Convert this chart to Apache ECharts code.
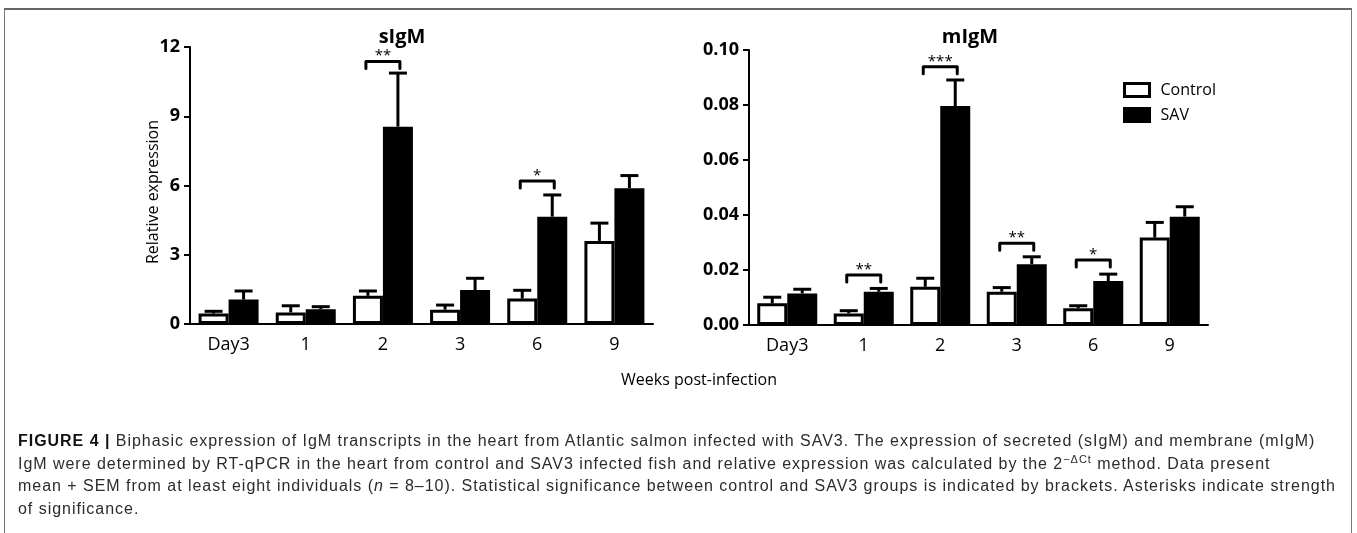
<!DOCTYPE html>
<html>
<head>
<meta charset="utf-8">
<script src="https://cdn.jsdelivr.net/npm/echarts/dist/echarts.min.js"></script>
<style>
  html, body { margin:0; padding:0; background:#fff; }
  #wrap { position:relative; width:1357px; height:533px; overflow:hidden; }
  #chart { position:absolute; left:0; top:0; width:1357px; height:533px; }
  #frame { position:absolute; left:4px; top:8px; width:1348px; height:540px;
           border-top:2px solid #666; border-left:1px solid #777; border-right:1px solid #777; box-sizing:border-box; }
  #caption { position:absolute; left:18px; top:430px; font-family:'Liberation Sans', Arial, sans-serif;
             font-size:16px; line-height:22.5px; color:#2b2b2b; }
  #caption div { white-space:nowrap; display:block; }
  #caption span.ln { white-space:nowrap; }
  #caption b { font-weight:bold; color:#111; }
  #caption sup { font-size:11px; vertical-align:6px; line-height:0; }
</style>
</head>
<body>
<div id="wrap">
  <div id="frame"></div>
  <div id="chart"></div>
  <div id="caption">
    <div><span class="ln"><b>FIGURE 4 |</b> Biphasic expression of IgM transcripts in the heart from Atlantic salmon infected with SAV3. The expression of secreted (sIgM) and membrane (mIgM)</span></div>
    <div><span class="ln">IgM were determined by RT-qPCR in the heart from control and SAV3 infected fish and relative expression was calculated by the 2<sup>−ΔCt</sup> method. Data present</span></div>
    <div><span class="ln" id="refline">mean + SEM from at least eight individuals (<i>n</i> = 8–10). Statistical significance between control and SAV3 groups is indicated by brackets. Asterisks indicate strength</span></div>
    <div><span class="ln">of significance.</span></div>
  </div>
</div>
<script>
// ---------------- DATA ----------------
const categories = ['Day3', '1', '2', '3', '6', '9'];

const sIgMControl    = [0.45, 0.50, 1.22, 0.62, 1.10, 3.60];
const sIgMControlErr = [0.10, 0.29, 0.21, 0.20, 0.36, 0.77];
const sIgMSAV        = [1.06, 0.64, 8.55, 1.47, 4.65, 5.88];
const sIgMSAVErr     = [0.37, 0.11, 2.32, 0.51, 0.94, 0.55];
const sIgMSigCats    = ['2', '6'];
const sIgMSigLevels  = [11.37, 6.20];
const sIgMSigMarks   = ['**', '*'];
const sIgMTicks      = [0, 3, 6, 9, 12];

const mIgMControl    = [0.0079, 0.0042, 0.0139, 0.0121, 0.0061, 0.0318];
const mIgMControlErr = [0.0022, 0.0010, 0.0031, 0.0015, 0.0009, 0.0055];
const mIgMSAV        = [0.0115, 0.0121, 0.0796, 0.0221, 0.0160, 0.0394];
const mIgMSAVErr     = [0.0015, 0.0012, 0.0095, 0.0027, 0.0025, 0.0036];
const mIgMSigCats    = ['1', '2', '3', '6'];
const mIgMSigLevels  = [0.0182, 0.0939, 0.0297, 0.0236];
const mIgMSigMarks   = ['**', '***', '**', '*'];
const mIgMTicks      = [0, 0.02, 0.04, 0.06, 0.08, 0.10];

const seriesNames = ['Control', 'SAV'];

// ---------------- CAPTION FIT ----------------
(function fitCaption() {
  const ref = document.getElementById('refline');
  const natural = ref.getBoundingClientRect().width;
  const target = 1318;
  const chars = ref.textContent.length;
  const ls = (target - natural) / chars;
  document.getElementById('caption').style.letterSpacing = ls.toFixed(3) + 'px';
})();

// ---------------- STYLE ----------------
const FONT = "'Open Sans', 'DejaVu Sans', sans-serif";
const BAR_W = 30;
const CAP_HALF = 9;

const chart = echarts.init(document.getElementById('chart'), null, { renderer: 'canvas' });

function errData(means, errs) {
  return means.map((m, i) => [i, m, m + errs[i]]);
}
function errSeries(gridIdx, means, errs, side) {
  return {
    type: 'custom', xAxisIndex: gridIdx, yAxisIndex: gridIdx, z: 5, silent: true,
    data: errData(means, errs),
    renderItem: function (params, api) {
      const c = api.coord([api.value(0), api.value(1)]);
      const t = api.coord([api.value(0), api.value(2)]);
      const cx = c[0] + side * BAR_W / 2;
      const st = { stroke: '#000', lineWidth: 3, lineCap: 'butt' };
      return {
        type: 'group',
        children: [
          { type: 'line', shape: { x1: cx, y1: c[1], x2: cx, y2: t[1] }, style: st },
          { type: 'line', shape: { x1: cx - CAP_HALF, y1: t[1], x2: cx + CAP_HALF, y2: t[1] }, style: st }
        ]
      };
    }
  };
}
function sigSeries(gridIdx, cats, levels, marks) {
  return {
    type: 'custom', xAxisIndex: gridIdx, yAxisIndex: gridIdx, z: 6, silent: true,
    data: cats.map((c, i) => [categories.indexOf(c), levels[i]]),
    renderItem: function (params, api) {
      const p = api.coord([api.value(0), api.value(1)]);
      const half = 17, drop = 7;
      const mark = marks[params.dataIndex];
      return {
        type: 'group',
        children: [
          { type: 'polyline',
            shape: { points: [[p[0] - half, p[1] + drop], [p[0] - half, p[1]], [p[0] + half, p[1]], [p[0] + half, p[1] + drop]] },
            style: { stroke: '#000', lineWidth: 3, fill: null, lineJoin: 'round', lineCap: 'round' } },
          { type: 'text',
            style: { text: mark, x: p[0], y: p[1] + 2, align: 'center', verticalAlign: 'bottom',
                     font: "15px " + FONT, fill: '#000' } }
        ]
      };
    }
  };
}

function xAxis(gridIdx) {
  return {
    type: 'category', gridIndex: gridIdx, data: categories,
    axisLine: { lineStyle: { color: '#000', width: 2 } },
    axisTick: { show: false },
    axisLabel: { color: '#000', fontFamily: FONT, fontSize: 18, margin: 12 },
    splitLine: { show: false }
  };
}
function yAxis(gridIdx, ticks, decimals) {
  return {
    type: 'value', gridIndex: gridIdx,
    min: ticks[0], max: ticks[ticks.length - 1], interval: ticks[1] - ticks[0],
    axisLine: { show: true, lineStyle: { color: '#000', width: 2 } },
    axisTick: { show: true, length: 6, lineStyle: { color: '#000', width: 2 } },
    axisLabel: { color: '#000', fontFamily: FONT, fontSize: 18, fontWeight: 'bold', margin: 10,
                 formatter: v => decimals ? v.toFixed(decimals) : String(Math.round(v)) },
    splitLine: { show: false }
  };
}
function bars(gridIdx, ctrl, sav) {
  return [
    { name: seriesNames[0], type: 'bar', xAxisIndex: gridIdx, yAxisIndex: gridIdx, data: ctrl,
      barWidth: BAR_W, barGap: '0%', z: 2,
      itemStyle: { color: '#fff', borderColor: '#000', borderWidth: 3 } },
    { name: seriesNames[1], type: 'bar', xAxisIndex: gridIdx, yAxisIndex: gridIdx, data: sav,
      barWidth: BAR_W, barGap: '0%', z: 3,
      itemStyle: { color: '#000', borderColor: '#000', borderWidth: 3 } }
  ];
}

const option = {
  animation: false,
  backgroundColor: 'transparent',
  grid: [
    { left: 190, top: 47, width: 463, height: 277 },
    { left: 749, top: 50, width: 459, height: 275 }
  ],
  xAxis: [xAxis(0), xAxis(1)],
  yAxis: [yAxis(0, sIgMTicks, 0), yAxis(1, mIgMTicks, 2)],
  legend: {
    left: 1123, top: 82, padding: 0, orient: 'vertical', itemWidth: 25, itemHeight: 13, itemGap: 9,
    icon: 'rect', selectedMode: false,
    textStyle: { color: '#000', fontFamily: FONT, fontSize: 16, padding: [0, 0, 0, 6] },
    data: [
      { name: seriesNames[0], itemStyle: { color: '#fff', borderColor: '#000', borderWidth: 3 } },
      { name: seriesNames[1], itemStyle: { color: '#000', borderColor: '#000', borderWidth: 3 } }
    ]
  },
  graphic: [
    { type: 'text', x: 402, y: 37, style: { text: 'sIgM', font: "bold 20px " + FONT, fill: '#000', align: 'center', verticalAlign: 'middle' } },
    { type: 'text', x: 970, y: 37, style: { text: 'mIgM', font: "bold 20px " + FONT, fill: '#000', align: 'center', verticalAlign: 'middle' } },
    { type: 'text', x: 153, y: 192, rotation: Math.PI / 2,
      style: { text: 'Relative expression', font: "16px " + FONT, fill: '#000', align: 'center', verticalAlign: 'middle' } },
    { type: 'text', x: 699, y: 380,
      style: { text: 'Weeks post-infection', font: "16px " + FONT, fill: '#000', align: 'center', verticalAlign: 'middle' } }
  ],
  series: [
    ...bars(0, sIgMControl, sIgMSAV),
    errSeries(0, sIgMControl, sIgMControlErr, -1),
    errSeries(0, sIgMSAV, sIgMSAVErr, 1),
    sigSeries(0, sIgMSigCats, sIgMSigLevels, sIgMSigMarks),
    ...bars(1, mIgMControl, mIgMSAV),
    errSeries(1, mIgMControl, mIgMControlErr, -1),
    errSeries(1, mIgMSAV, mIgMSAVErr, 1),
    sigSeries(1, mIgMSigCats, mIgMSigLevels, mIgMSigMarks)
  ]
};
chart.setOption(option);
</script>
</body>
</html>
